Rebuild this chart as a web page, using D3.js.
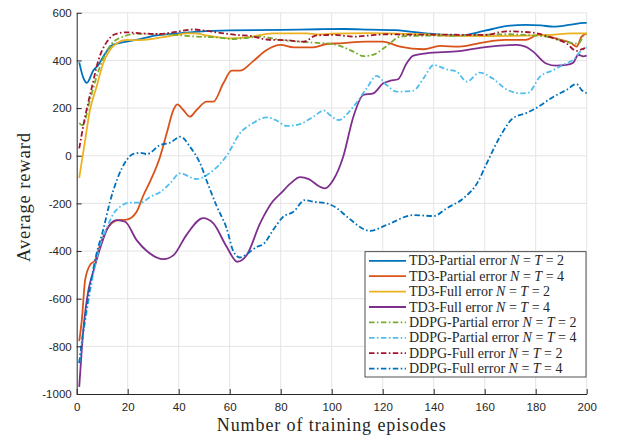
<!DOCTYPE html>
<html>
<head>
<meta charset="utf-8">
<script src="https://cdn.jsdelivr.net/npm/d3@7"></script>
<style>
  html, body { margin: 0; padding: 0; background: #fff; }
  svg { display: block; }
</style>
</head>
<body>
<svg id="chart" width="619" height="438"></svg>
<script>
// Tick values for both axes
const xTicks = d3.range(0, 201, 20);
const yTicks = d3.range(-1000, 601, 200);

// Reward curves: [episode, average reward]
const td3Partial2 = [[1,392],[2.5,330],[4,306],[6.5,358],[8.5,381],[10.4,416],[14,465],[19.6,479],[25,490],[30,503],[40,514],[48,521],[60,526],[80,528],[95,531],[105,532],[115,529],[125,527],[130.7,521],[137,514],[144,507],[150,504],[157,517],[163,532],[170,546],[176,549],[182,547],[187,542],[193,549],[199,558],[200,558]];
const td3Partial4 = [[1,-778],[2,-690],[3.3,-522],[5.2,-459],[7.2,-438],[9.8,-354],[13,-291],[16.3,-270],[19.6,-268],[23.5,-235],[26,-170],[28.7,-110],[32.7,-4],[35.3,94],[37.9,192],[39.5,216],[41.8,192],[44.4,164],[47,192],[51,227],[53.6,227],[57.5,304],[60.8,357],[64,357],[69,395],[74.5,444],[80,465],[85,455],[92.8,455],[98,469],[103,472],[113.7,479],[120,479],[126.8,458],[136,447],[142.5,461],[150,458],[159,475],[168,486],[176,486],[181,507],[189,489],[194,472],[196,458],[198,500],[200,514]];
const td3Full2 = [[1,-93],[3.3,66],[5.2,192],[7.8,290],[10.4,388],[13,444],[15.7,472],[19.6,486],[23.5,485],[31,493],[39,507],[43,514],[46,514],[52,503],[60,493],[66.7,497],[77,514],[90,514],[95,509],[100,512],[115,515],[125,513],[135,510],[147.7,503],[160,502],[170,503],[186,507],[193.6,514],[199,514],[200,514]];
const td3Full4 = [[1,-970],[2.6,-732],[4.6,-564],[6.5,-487],[9.8,-368],[12.4,-298],[15.7,-270],[19,-277],[23.5,-354],[27.5,-400],[34,-434],[38,-417],[43,-333],[49.6,-262],[53.6,-284],[58.8,-382],[63,-445],[66.7,-417],[71.9,-284],[77,-190],[80,-158],[84,-115],[87.6,-90],[91,-98],[95.4,-130],[97.4,-137],[100.6,-102],[104.5,-4],[108.5,164],[112.4,255],[116.3,262],[120.2,304],[123,315],[126,321],[129.4,388],[132,420],[137,430],[150,439],[159.5,455],[166,462],[172.5,465],[176,458],[179,437],[184.3,386],[188,378],[192,381],[194.7,390],[196.7,424],[198.6,417],[200,420]];
const ddpgPartial2 = [[1,137],[2.3,128],[5.2,234],[7.8,332],[10.4,409],[13.7,470],[18.3,500],[23.5,512],[30,511],[39,507],[47,500],[55,497],[61,490],[65,493],[72,500],[80,486],[87.6,479],[95.4,473],[100,470],[103,462],[108.5,437],[112.4,418],[116,423],[121.5,460],[126.8,500],[130.7,503],[150,505],[170,510],[174,508],[184,500],[192,479],[196.7,470],[199,505],[200,507]];
const ddpgPartial4 = [[1,-870],[2,-790],[4,-650],[6.5,-494],[9,-382],[12,-298],[14.5,-242],[17,-214],[21,-197],[25,-197],[29,-172],[33,-151],[36.6,-116],[40.5,-74],[47,-98],[52,-74],[59,3],[64,94],[69,136],[74.5,161],[78,150],[82.3,125],[87.6,133],[92.8,164],[97,190],[99.3,171],[102.6,150],[108.5,206],[113.7,283],[117.6,335],[121.5,297],[125.5,269],[132,273],[136,325],[140,381],[145,363],[149,353],[153,311],[158,349],[163,325],[168.5,279],[174,262],[177,264],[181.7,332],[187,360],[192,388],[195,405],[197,432],[200,455]];
const ddpgFull2 = [[1,31],[3.3,164],[6,290],[8.5,400],[11.8,478],[15,510],[19,518],[25,514],[32,511],[39,520],[45.7,530],[51,524],[58.8,512],[64,506],[68,503],[74.5,488],[82,485],[89,479],[94,505],[101,507],[108.5,500],[115,505],[121.5,510],[130,508],[145,508],[160,507],[168.6,522],[175,520],[180,515],[187,493],[192,472],[196,440],[199,451],[200,453]];
const ddpgFull4 = [[1,-870],[3,-700],[5.2,-550],[7.8,-410],[10.4,-310],[13,-195],[16,-95],[19.6,-18],[22.2,8],[25,12],[27.5,7],[32.7,45],[36.6,55],[40.8,80],[44.4,38],[48.4,-32],[51.5,-120],[55,-214],[58.8,-305],[61.4,-400],[64,-427],[66.7,-413],[70.6,-382],[73.2,-371],[77,-312],[81,-256],[85,-235],[89.5,-186],[92.8,-193],[98,-200],[102,-220],[106,-256],[115,-315],[121.5,-291],[132,-249],[140,-253],[145,-221],[151.6,-179],[157,-116],[160.8,-32],[166,80],[171,157],[176.5,180],[180,199],[187,248],[192,276],[196,301],[198,276],[200,262]];

// Legend entries: method prefix and N = T value
const labelPrefixes = ["TD3-Partial error", "TD3-Partial error", "TD3-Full error", "TD3-Full error",
                       "DDPG-Partial error", "DDPG-Partial error", "DDPG-Full error", "DDPG-Full error"];
const labelSizes = [2, 4, 2, 4, 2, 4, 2, 4];

const seriesData = [td3Partial2, td3Partial4, td3Full2, td3Full4, ddpgPartial2, ddpgPartial4, ddpgFull2, ddpgFull4];
const colors = ["#0072BD", "#D95319", "#EDB120", "#7E2F8E", "#77AC30", "#4DBEEE", "#A2142F", "#0072BD"];
const dashed = [false, false, false, false, true, true, true, true];

const svg = d3.select("#chart");
const plot = { left: 76.7, right: 586.7, top: 12.8, bottom: 394 };

const x = d3.scaleLinear().domain([0, 200]).range([plot.left, plot.right]);
const y = d3.scaleLinear().domain([-1000, 600]).range([plot.bottom, plot.top]);

const axisColor = "#262626";
const gridColor = "#e4e4e4";
const dashPattern = "5.5,2.4,1.6,2.4";

// Grid
const grid = svg.append("g");
grid.selectAll("line.gx").data(xTicks.filter(d => d > 0)).enter().append("line")
  .attr("x1", d => x(d)).attr("x2", d => x(d))
  .attr("y1", plot.top).attr("y2", plot.bottom)
  .attr("stroke", gridColor).attr("stroke-width", 1);
grid.selectAll("line.gy").data(yTicks.filter(d => d > -1000)).enter().append("line")
  .attr("x1", plot.left).attr("x2", plot.right)
  .attr("y1", d => y(d)).attr("y2", d => y(d))
  .attr("stroke", gridColor).attr("stroke-width", 1);

// Curves
svg.append("clipPath").attr("id", "plotClip").append("rect")
  .attr("x", plot.left).attr("y", plot.top - 2)
  .attr("width", plot.right - plot.left + 2).attr("height", plot.bottom - plot.top + 2);

const line = d3.line()
  .x(d => x(d[0])).y(d => y(d[1]))
  .curve(d3.curveMonotoneX);

const curves = svg.append("g").attr("clip-path", "url(#plotClip)");
seriesData.forEach((data, i) => {
  curves.append("path")
    .datum(data)
    .attr("d", line)
    .attr("fill", "none")
    .attr("stroke", colors[i])
    .attr("stroke-width", 1.8)
    .attr("stroke-linejoin", "round")
    .attr("stroke-dasharray", dashed[i] ? dashPattern : null);
});

// Axes (plain hyphen minus, no thousands separator)
const plainFormat = d => String(d);
const xAxis = d3.axisBottom(x).tickValues(xTicks).tickFormat(plainFormat)
  .tickSizeInner(-5).tickSizeOuter(0).tickPadding(8.5);
const yAxis = d3.axisLeft(y).tickValues(yTicks).tickFormat(plainFormat)
  .tickSizeInner(-5).tickSizeOuter(0).tickPadding(5);

function styleAxis(g) {
  g.select(".domain").attr("stroke", axisColor).attr("stroke-width", 1);
  g.selectAll(".tick line").attr("stroke", axisColor).attr("stroke-width", 1);
  g.selectAll(".tick text")
    .attr("fill", axisColor)
    .style("font-family", "'Liberation Sans', Arial, Helvetica, sans-serif")
    .style("font-size", "11.5px");
}

svg.append("g").attr("transform", `translate(0,${plot.bottom})`).call(xAxis).call(styleAxis);
svg.append("g").attr("transform", `translate(${plot.left},0)`).call(yAxis).call(styleAxis);

// Axis titles
const serif = "'Liberation Serif', 'Times New Roman', serif";
svg.append("text")
  .attr("x", (plot.left + plot.right) / 2).attr("y", 430.5)
  .attr("text-anchor", "middle")
  .style("font-family", serif).style("font-size", "18px")
  .style("letter-spacing", "0.9px").attr("fill", axisColor)
  .text("Number of training episodes");
svg.append("text")
  .attr("transform", "translate(30,197) rotate(-90)")
  .attr("text-anchor", "middle")
  .style("font-family", serif).style("font-size", "18.5px")
  .style("letter-spacing", "0.9px").attr("fill", axisColor)
  .text("Average reward");

// Legend
const legend = svg.append("g");
const lg = { x: 365, y: 251.7, w: 221, h: 125.3, row0: 260.8, rowStep: 15.4 };
legend.append("rect")
  .attr("x", lg.x).attr("y", lg.y).attr("width", lg.w).attr("height", lg.h)
  .attr("fill", "#fff").attr("stroke", axisColor).attr("stroke-width", 0.8);

labelPrefixes.forEach((prefix, i) => {
  const ry = lg.row0 + i * lg.rowStep;
  legend.append("line")
    .attr("x1", 369).attr("x2", 406).attr("y1", ry).attr("y2", ry)
    .attr("stroke", colors[i]).attr("stroke-width", 1.8)
    .attr("stroke-dasharray", dashed[i] ? dashPattern : null);
  const t = legend.append("text")
    .attr("x", 409).attr("y", ry + 4.6)
    .style("font-family", serif).style("font-size", "14px").attr("fill", axisColor);
  t.append("tspan").text(prefix + " ");
  t.append("tspan").style("font-style", "italic").text("N");
  t.append("tspan").text(" = ");
  t.append("tspan").style("font-style", "italic").text("T");
  t.append("tspan").text(" = " + labelSizes[i]);
});
</script>
</body>
</html>
